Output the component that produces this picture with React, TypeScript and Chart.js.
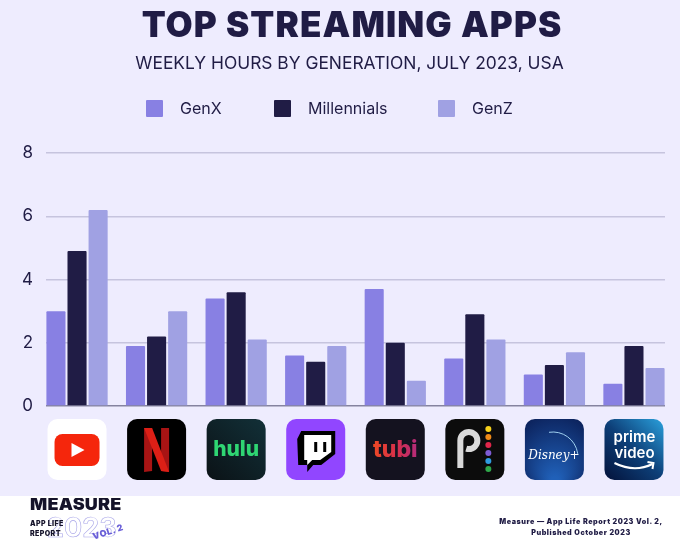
import React, { useEffect, useRef } from 'react';
import { Chart, registerables } from 'chart.js';

Chart.register(...registerables);

const apps = ['YouTube', 'Netflix', 'Hulu', 'Twitch', 'Tubi', 'Peacock', 'Disney+', 'Prime Video'];
const genX = [3, 1.9, 3.4, 1.6, 3.7, 1.5, 1, 0.7];
const millennials = [4.9, 2.2, 3.6, 1.4, 2, 2.9, 1.3, 1.9];
const genZ = [6.2, 3, 2.1, 1.9, 0.8, 2.1, 1.7, 1.2];
const yTicks = [0, 2, 4, 6, 8];

const GENX_COLOR = '#8880e3';
const MILL_COLOR = '#201c45';
const GENZ_COLOR = '#a0a1e3';
const BG = '#eeecfe';
const FONT = 'Inter, "Open Sans", sans-serif';

const legendItems = [
  { label: 'GenX', color: GENX_COLOR, box: 146, text: 180 },
  { label: 'Millennials', color: MILL_COLOR, box: 274, text: 308 },
  { label: 'GenZ', color: GENZ_COLOR, box: 438, text: 472 },
];

const ICON_W = 59;
const ICON_H = 61;
const ICON_TOP = 419;

function tile(ctx: CanvasRenderingContext2D, x: number, y: number, fill: string | CanvasGradient) {
  ctx.beginPath();
  ctx.roundRect(x, y, ICON_W, ICON_H, 10);
  ctx.fillStyle = fill;
  ctx.fill();
}

function grad(ctx: CanvasRenderingContext2D, x0: number, y0: number, x1: number, y1: number, stops: string[]) {
  const g = ctx.createLinearGradient(x0, y0, x1, y1);
  stops.forEach((c, i) => g.addColorStop(i / (stops.length - 1), c));
  return g;
}

function poly(ctx: CanvasRenderingContext2D, x: number, y: number, pts: number[][], fill: string) {
  ctx.beginPath();
  pts.forEach(([a, b], i) => (i ? ctx.lineTo(x + a, y + b) : ctx.moveTo(x + a, y + b)));
  ctx.closePath();
  ctx.fillStyle = fill;
  ctx.fill();
}

const iconPainters: ((ctx: CanvasRenderingContext2D, x: number, y: number) => void)[] = [
  (ctx, x, y) => {
    tile(ctx, x, y, '#ffffff');
    ctx.beginPath();
    ctx.roundRect(x + 7, y + 15, 45, 32, 8);
    ctx.fillStyle = '#f5260c';
    ctx.fill();
    poly(ctx, x, y, [[24, 24], [24, 38], [37, 31]], '#ffffff');
  },
  (ctx, x, y) => {
    tile(ctx, x, y, '#000000');
    poly(ctx, x, y, [[17, 9], [25, 9], [25, 52], [17, 53]], '#a81414');
    poly(ctx, x, y, [[34, 9], [42, 9], [42, 53], [34, 52]], '#a81414');
    poly(ctx, x, y, [[17, 9], [25, 9], [42, 53], [34, 52]], '#dd1f16');
  },
  (ctx, x, y) => {
    tile(ctx, x, y, grad(ctx, x, y + ICON_H, x + ICON_W, y, ['#0b1216', '#123038']));
    ctx.fillStyle = '#2fd673';
    ctx.font = `800 21px ${FONT}`;
    ctx.textAlign = 'center';
    ctx.textBaseline = 'middle';
    ctx.fillText('hulu', x + ICON_W / 2, y + 31);
  },
  (ctx, x, y) => {
    tile(ctx, x, y, '#9146ff');
    poly(ctx, x, y, [[15, 12], [49, 12], [49, 35], [35, 46], [27, 46], [21, 53], [21, 46], [12, 46], [11, 20]], '#000000');
    poly(ctx, x, y, [[18, 16], [45, 16], [45, 33], [34, 41], [26, 41], [21, 46], [21, 41], [18, 41]], '#ffffff');
    ctx.fillStyle = '#000000';
    ctx.fillRect(x + 28, y + 23, 3, 10);
    ctx.fillRect(x + 37, y + 23, 3, 10);
  },
  (ctx, x, y) => {
    tile(ctx, x, y, '#14121f');
    ctx.fillStyle = grad(ctx, x + 6, y, x + 54, y, ['#ee4a22', '#d8304a', '#b02a80']);
    ctx.font = `800 23px ${FONT}`;
    ctx.textAlign = 'center';
    ctx.textBaseline = 'middle';
    ctx.fillText('tubi', x + ICON_W / 2, y + 31);
  },
  (ctx, x, y) => {
    tile(ctx, x, y, '#0c0c0c');
    ctx.strokeStyle = '#d9d9d9';
    ctx.lineWidth = 6;
    ctx.lineCap = 'butt';
    ctx.beginPath();
    ctx.moveTo(x + 15, y + 49);
    ctx.lineTo(x + 15, y + 21.5);
    ctx.arc(x + 23.5, y + 21.5, 8.5, Math.PI, Math.PI * 2.6);
    ctx.stroke();
    ['#f8d21c', '#f08a18', '#e0264a', '#7e5cd6', '#2f9be0', '#2fa84a'].forEach((c, i) => {
      ctx.beginPath();
      ctx.arc(x + 43, y + 10 + i * 8, 3, 0, Math.PI * 2);
      ctx.fillStyle = c;
      ctx.fill();
    });
  },
  (ctx, x, y) => {
    const g = ctx.createRadialGradient(x + 30, y + 62, 4, x + 30, y + 30, 50);
    g.addColorStop(0, '#2060b8');
    g.addColorStop(1, '#08164a');
    tile(ctx, x, y, g);
    ctx.strokeStyle = '#9fd0f0';
    ctx.lineWidth = 1;
    ctx.beginPath();
    ctx.arc(x + 28, y + 38, 25, -Math.PI * 0.55, -Math.PI * 0.03);
    ctx.stroke();
    ctx.fillStyle = '#ffffff';
    ctx.font = `italic 400 12px "DejaVu Serif", serif`;
    ctx.textAlign = 'center';
    ctx.textBaseline = 'middle';
    ctx.fillText('Disney+', x + 29, y + 37);
  },
  (ctx, x, y) => {
    tile(ctx, x, y, grad(ctx, x, y + ICON_H, x + ICON_W, y, ['#04123a', '#0d3f78', '#2aa0dc']));
    ctx.fillStyle = '#ffffff';
    ctx.font = `600 15px ${FONT}`;
    ctx.textAlign = 'center';
    ctx.textBaseline = 'middle';
    ctx.fillText('prime', x + 30, y + 18);
    ctx.fillText('video', x + 30, y + 34);
    ctx.strokeStyle = '#ffffff';
    ctx.lineWidth = 2;
    ctx.beginPath();
    ctx.moveTo(x + 10, y + 44);
    ctx.quadraticCurveTo(x + 30, y + 54, x + 48, y + 45);
    ctx.stroke();
    ctx.beginPath();
    ctx.moveTo(x + 43, y + 43);
    ctx.lineTo(x + 49, y + 44);
    ctx.lineTo(x + 48, y + 50);
    ctx.stroke();
  },
];

// app icons sit under each group, centred on the x scale
const appIcons = {
  id: 'appIcons',
  afterDraw(chart: Chart) {
    const { ctx, scales } = chart;
    iconPainters.forEach((paint, i) => {
      ctx.save();
      paint(ctx, scales.x.getPixelForValue(i) - ICON_W / 2, ICON_TOP);
      ctx.restore();
    });
  },
};

const abs = (left: number, top: number, extra: React.CSSProperties = {}): React.CSSProperties => ({
  position: 'absolute',
  left,
  top,
  whiteSpace: 'nowrap',
  ...extra,
});

const App: React.FC = () => {
  const canvasRef = useRef<HTMLCanvasElement | null>(null);

  useEffect(() => {
    if (!canvasRef.current) return;
    const toXY = (values: number[]) => values.map((v, i) => ({ x: i, y: v }));
    const chart = new Chart(canvasRef.current, {
      type: 'bar',
      data: {
        labels: apps,
        datasets: [
          { label: 'GenX', data: toXY(genX) as any, backgroundColor: GENX_COLOR },
          { label: 'Millennials', data: toXY(millennials) as any, backgroundColor: MILL_COLOR },
          { label: 'GenZ', data: toXY(genZ) as any, backgroundColor: GENZ_COLOR },
        ],
      },
      options: {
        responsive: false,
        animation: false,
        layout: { padding: { top: 153, bottom: 141, left: 0, right: 15 } },
        datasets: { bar: { categoryPercentage: 0.795, barPercentage: 0.905, borderRadius: 1 } },
        plugins: { legend: { display: false }, tooltip: { enabled: false } },
        scales: {
          x: {
            type: 'linear',
            offset: false,
            min: -0.39,
            max: 7.39,
            display: false,
          },
          y: {
            min: 0,
            max: 8,
            afterFit: (scale: any) => {
              scale.width = 46;
            },
            afterBuildTicks: (scale: any) => {
              scale.ticks = yTicks.map((value) => ({ value }));
            },
            border: { display: false },
            grid: {
              drawTicks: false,
              lineWidth: 1.5,
              color: (c: any) => (c.tick.value === 0 ? '#85839f' : '#c6c4de'),
            },
            ticks: {
              padding: 13,
              color: MILL_COLOR,
              font: { family: FONT, size: 17 },
            },
          },
        },
      },
      plugins: [appIcons],
    });
    return () => chart.destroy();
  }, []);

  return (
    <div style={{ position: 'absolute', left: 0, top: 0, width: 680, height: 547, overflow: 'hidden', background: '#ffffff', fontFamily: FONT, color: MILL_COLOR }}>
      <div style={{ position: 'absolute', left: 0, top: 0, width: 680, height: 496, background: BG }} />
      <canvas ref={canvasRef} width={680} height={547} style={{ position: 'absolute', left: 0, top: 0 }} />

      <div style={abs(0, 2, { width: 704, textAlign: 'center', fontSize: 35, fontWeight: 900, letterSpacing: 1.1, lineHeight: '44px' })}>TOP STREAMING APPS</div>
      <div style={abs(0, 52, { width: 699, textAlign: 'center', fontSize: 17.4, lineHeight: '22px' })}>WEEKLY HOURS BY GENERATION, JULY 2023, USA</div>

      {legendItems.map((item) => (
        <React.Fragment key={item.label}>
          <div style={abs(item.box, 100, { width: 17, height: 17, background: item.color, borderRadius: 1 })} />
          <div style={abs(item.text, 98, { fontSize: 16, lineHeight: '20px' })}>{item.label}</div>
        </React.Fragment>
      ))}

      <div style={{ ...abs(30, 493, { fontSize: 18, fontWeight: 900, letterSpacing: 0.2, lineHeight: '22px', color: '#15132a' }), clipPath: 'inset(5px 0 0 0)' }}>MEASURE</div>
      <div style={abs(47, 513, { fontSize: 27, fontWeight: 700, lineHeight: '30px', color: 'transparent', WebkitTextStroke: '0.6px #a9a6e8', letterSpacing: 0 })}>2023</div>
      <div style={abs(30, 519, { fontSize: 7, fontWeight: 900, lineHeight: '10px', letterSpacing: 0.4, color: '#15132a' })}>APP LIFE<br />REPORT</div>
      <div style={abs(92, 526, { fontSize: 9, fontWeight: 900, lineHeight: '11px', letterSpacing: 0.4, color: '#6a5fd8', transform: 'rotate(-18deg)' })}>VOL. 2</div>
      <div style={abs(479, 516, { width: 204, textAlign: 'center', fontSize: 7.2, fontWeight: 900, lineHeight: '11px', letterSpacing: 0.55 })}>Measure — App Life Report 2023 Vol. 2,<br />Published October 2023</div>
    </div>
  );
};

export default App;
